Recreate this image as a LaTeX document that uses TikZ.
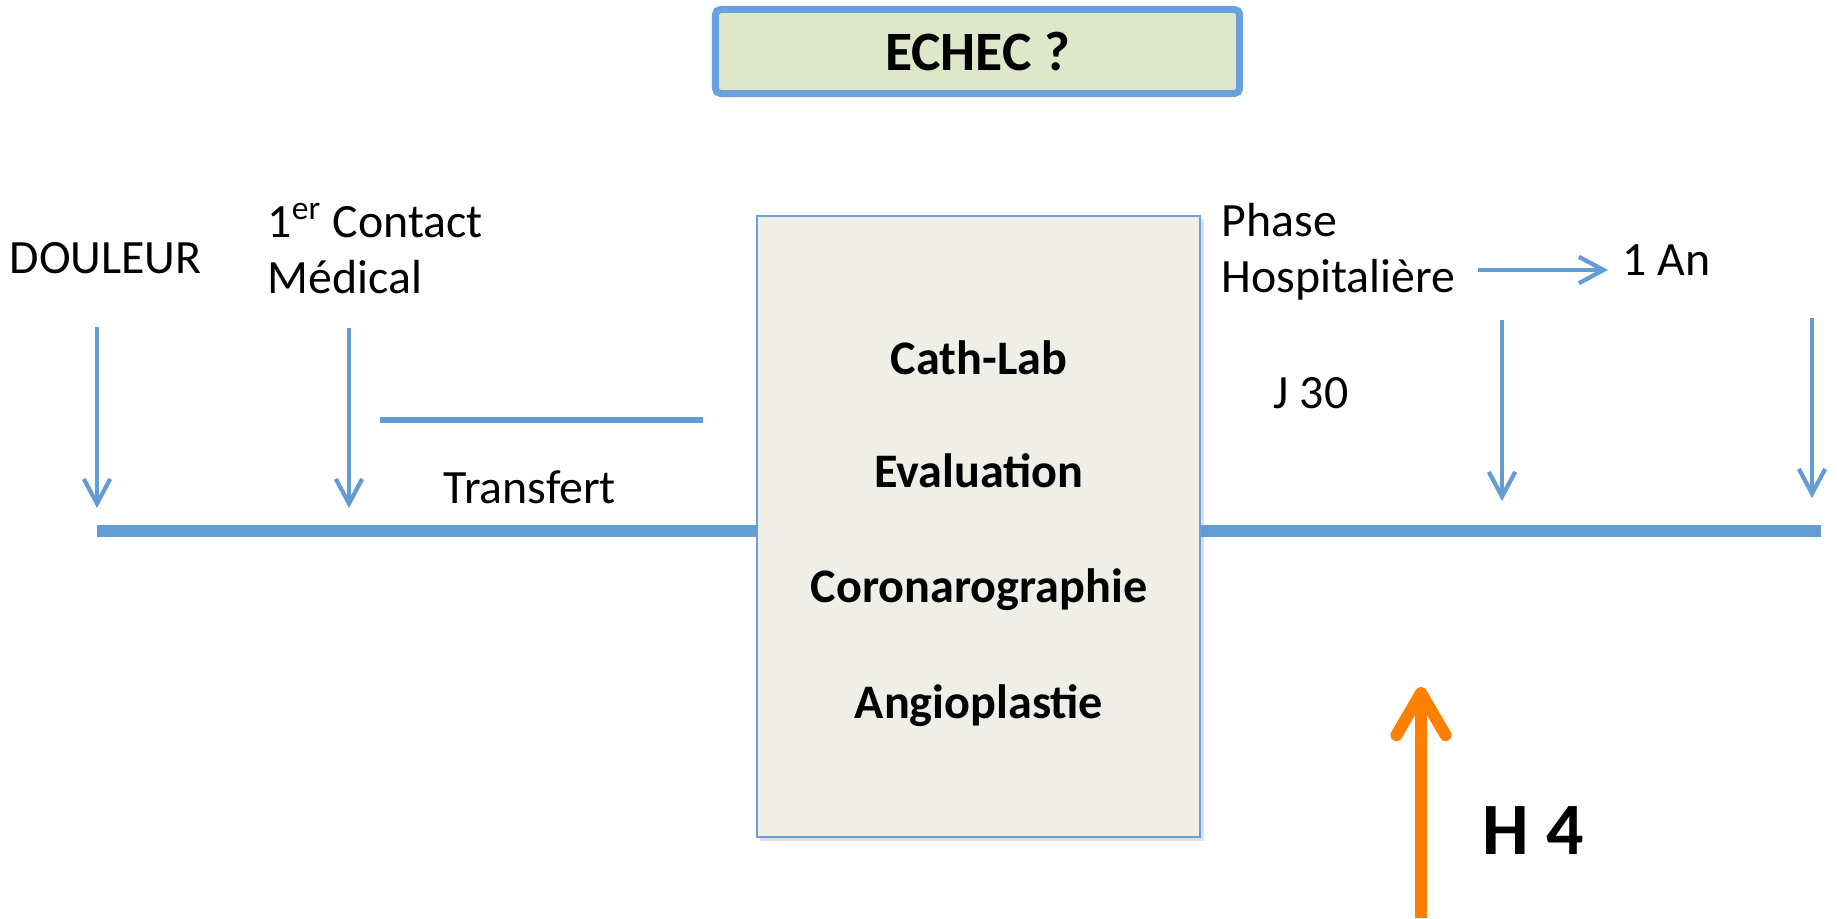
\documentclass[tikz,border=0pt]{standalone}
\usepackage{fontspec}
\setmainfont{Carlito}
\usetikzlibrary{arrows.meta,shadows}
\definecolor{lineblue}{RGB}{99,155,212}
\definecolor{boxblue}{RGB}{104,161,222}
\definecolor{echecfill}{RGB}{223,231,203}
\definecolor{labfill}{RGB}{239,239,231}
\definecolor{hourorange}{RGB}{255,128,0}
\begin{document}
\begin{tikzpicture}[x=0.01cm, y=-0.01cm]
    \tikzset{>={Straight Barb[length=7pt,width=7.5pt]}}
    \tikzset{txt/.style={font=\fontsize{13.6}{15.65}\selectfont, inner sep=0pt},
             labtxt/.style={font=\fontsize{13.7}{16}\selectfont\bfseries, inner sep=0pt},
             tick/.style={->, lineblue, line width=1.2pt}}
    \useasboundingbox (0,0) rectangle (1837,918);
    \coordinate (L) at (97,531);
    \coordinate (R) at (1821,531);
    \node[draw=boxblue, line width=0.6pt, fill=labfill, minimum width=4.43cm, minimum height=6.21cm,
          drop shadow={opacity=0.25, shadow xshift=1pt, shadow yshift=-1pt}] (lab) at (978.5,526.5) {};
    \draw[lineblue, line width=3.4pt] (L) -- (L -| lab.west);
    \draw[lineblue, line width=3.4pt] (lab.east |- R) -- (R);
    \node[labtxt, anchor=base] (cath) at (979,374) {Cath-Lab};
    \node[labtxt, anchor=base] (eval) at (979,487) {Evaluation};
    \node[labtxt, anchor=base] (coro) at (979,602) {Coronarographie};
    \node[labtxt, anchor=base] (angio) at (979,718) {Angioplastie};
    \node[draw=boxblue, line width=2pt, fill=echecfill, rounded corners=1.5pt, minimum width=5.24cm, minimum height=0.84cm,
          font=\fontsize{15.8}{18}\selectfont\bfseries] (echec) at (977.5,51.5) {ECHEC ?};
    \node[txt, anchor=base west] (douleur) at (9,273) {DOULEUR};
    \node[txt, anchor=base west, align=left] (contact) at (267,293) {1\textsuperscript{er} Contact\\Médical};
    \node[txt, anchor=base west] (transfert) at (443,503) {Transfert};
    \node[txt, anchor=base west, align=left] (phase) at (1221,292) {Phase\\Hospitalière};
    \node[txt, anchor=base west] (an) at (1622,275) {1 An};
    \node[txt, anchor=base west] (j30) at (1273,408) {J 30};
    \coordinate (d1) at (97,327);
    \coordinate (d2) at (349,328);
    \coordinate (d3) at (1502,320);
    \coordinate (d4) at (1812,318);
    \draw[tick] (d1) -- ++(0,181);
    \draw[tick] (d2) -- ++(0,180);
    \draw[tick] (d3) -- ++(0,181);
    \draw[tick] (d4) -- ++(0,180);
    \coordinate (t1) at (380,420);
    \coordinate (t2) at (703,420);
    \draw[lineblue, line width=1.6pt] (t1) -- (t2);
    \coordinate (h1) at (1478,270);
    \coordinate (h2) at (1608,270);
    \draw[tick] (h1) -- (h2);
    \coordinate (o1) at (1421,918);
    \coordinate (o2) at (1421,687);
    \draw[hourorange, line width=3.4pt, -{Straight Barb[length=12pt,width=14pt,line cap=round,line join=round]}] (o1) -- (o2);
    \node[font=\fontsize{21}{25}\selectfont\bfseries, anchor=base west, inner sep=0pt] (h4) at (1482,854) {H 4};
\end{tikzpicture}
\end{document}
